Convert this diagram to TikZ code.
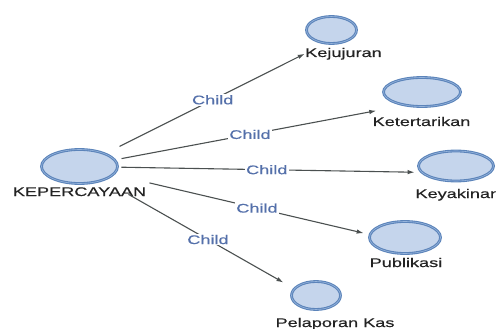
\documentclass[tikz,border=0pt]{standalone}
\usepackage{fontspec}
\setmainfont{Liberation Sans}[FakeStretch=1.45,FakeBold=0.45]
\usetikzlibrary{arrows.meta,shapes.geometric}
\definecolor{nodefill}{RGB}{197,213,236}
\definecolor{noderim}{RGB}{92,132,186}
\definecolor{noderimlight}{RGB}{150,180,220}
\definecolor{linkgray}{RGB}{75,80,80}
\definecolor{childblue}{RGB}{84,112,170}
\definecolor{labeltext}{RGB}{35,35,35}
\begin{document}
\begin{tikzpicture}[x=1pt,y=-1pt,
  concept/.style={ellipse, draw=noderim, line width=2.8pt, fill=nodefill, inner sep=0pt,
    postaction={draw=noderimlight, line width=0.6pt}},
  caption/.style={font=\fontsize{12.5}{14}\selectfont, text=labeltext, inner sep=0.5pt, outer sep=0pt},
  link/.style={draw=linkgray, line width=1.1pt, -{Latex[length=7pt,width=4.5pt]}},
  rel/.style={font=\fontsize{12.5}{14}\selectfont, text=childblue, fill=white, inner sep=1.2pt}]
\useasboundingbox (0,0) rectangle (496,329);
\clip (0,0) rectangle (496,329);

% concepts
\node[concept, minimum width=76, minimum height=34] (root) at (79.5,166.5) {};
\node[caption, anchor=base] (rootl) at (79.5,196) {KEPERCAYAAN};

\node[concept, minimum width=50, minimum height=27] (kej) at (331.5,30) {};
\node[caption, anchor=base] (kejl) at (343.5,57) {Kejujuran};

\node[concept, minimum width=77, minimum height=29] (ket) at (422,92) {};
\node[caption, anchor=base] (ketl) at (421.5,126) {Ketertarikan};

\node[concept, minimum width=75, minimum height=30] (key) at (456,166) {};
\node[caption, anchor=base west] (keyl) at (415,198) {Keyakinan};

\node[concept, minimum width=71, minimum height=32] (pub) at (405,237.5) {};
\node[caption, anchor=base] (publ) at (406,267) {Publikasi};

\node[concept, minimum width=49, minimum height=28] (pel) at (316,295.5) {};
\node[caption, anchor=base] (pell) at (335,327) {Pelaporan Kas};

% child relations
\draw[link, shorten <=14.7pt] (root) -- node[rel, pos=.536] {Child} (kejl.west);
\draw[link, shorten <=5.6pt, shorten >=26.5pt] (root) -- node[rel, pos=.468] {Child} (ket.215);
\draw[link, shorten <=2.5pt, shorten >=5.5pt] (root) -- node[rel, pos=.491] {Child} (key.190);
\draw[link, shorten <=35.7pt, shorten >=5.2pt] (root) -- node[rel, pos=.56] {Child} (pub.175);
\draw[link, shorten <=27.6pt, shorten >=11.3pt] (root) -- node[rel, pos=.548] {Child} (pel.162);
\end{tikzpicture}
\end{document}
